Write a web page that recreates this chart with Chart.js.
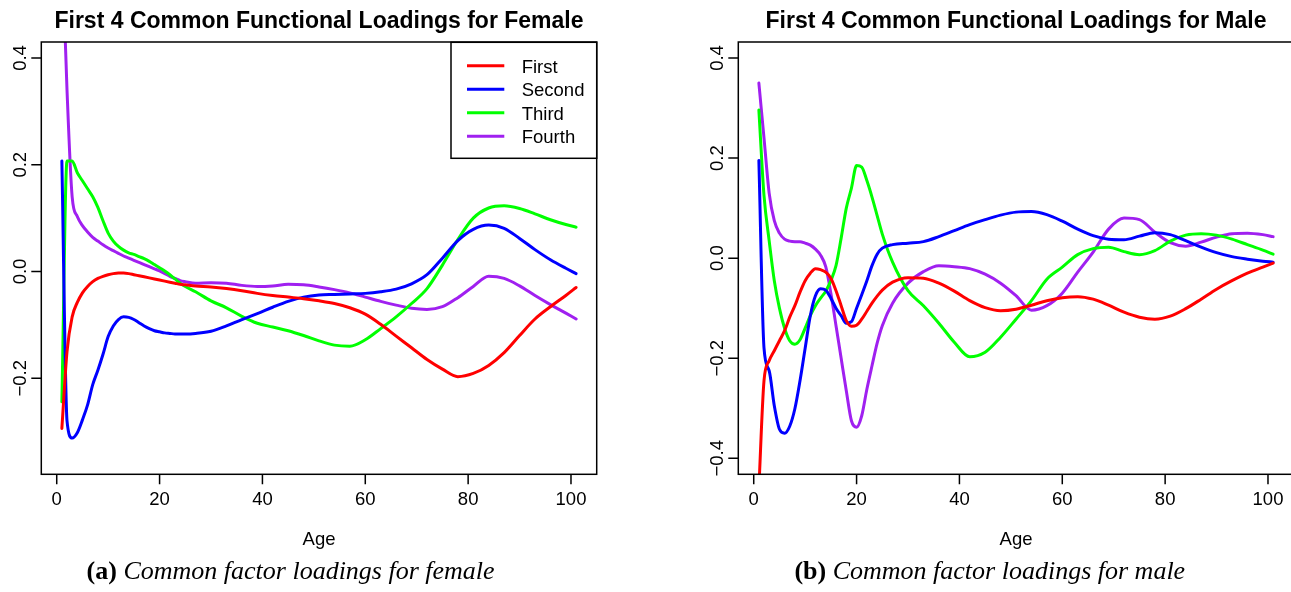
<!DOCTYPE html>
<html><head><meta charset="utf-8">
<script src="https://cdn.jsdelivr.net/npm/chart.js@4.4.1/dist/chart.umd.min.js"></script>
<style>
html,body{margin:0;padding:0;background:#fff;width:1291px;height:592px;overflow:hidden;position:relative}
canvas{position:absolute;top:0}
#cA{left:0}
#cB{left:645px}
</style></head><body>
<canvas id="cA" width="645" height="592"></canvas>
<canvas id="cB" width="660" height="592"></canvas>
<script>
// ---------- data ----------
const AGES = [1,2,3,4,5,6,7,8,9,10,11,12,13,14,15,16,17,18,19,20,21,22,23,24,25,
  27,30,33,36,39,42,45,48,51,54,57,60,63,66,69,72,75,78,81,84,87,90,93,96,99,101];
const SERIES_NAMES = ['First','Second','Third','Fourth'];

const FEMALE_FIRST = [-0.294,-0.15,-0.085,-0.058,-0.04,-0.028,-0.019,-0.013,-0.009,-0.006,-0.004,-0.003,-0.003,-0.004,-0.006,-0.008,-0.010,-0.012,-0.014,-0.016,-0.018,-0.020,-0.022,-0.024,-0.025,
  -0.027,-0.029,-0.032,-0.036,-0.041,-0.045,-0.048,-0.051,-0.055,-0.060,-0.068,-0.080,-0.099,-0.121,-0.143,-0.165,-0.183,-0.197,-0.191,-0.176,-0.152,-0.120,-0.089,-0.066,-0.045,-0.030];
const FEMALE_SECOND = [0.207,-0.28,-0.312,-0.302,-0.278,-0.25,-0.212,-0.185,-0.155,-0.122,-0.102,-0.09,-0.085,-0.086,-0.09,-0.096,-0.102,-0.107,-0.111,-0.113,-0.115,-0.116,-0.117,-0.117,-0.117,
  -0.116,-0.112,-0.102,-0.09,-0.079,-0.067,-0.056,-0.048,-0.044,-0.043,-0.042,-0.041,-0.038,-0.033,-0.023,-0.006,0.025,0.058,0.079,0.087,0.081,0.062,0.041,0.022,0.006,-0.004];
const FEMALE_THIRD = [-0.244,0.207,0.207,0.185,0.17,0.155,0.14,0.12,0.095,0.072,0.057,0.047,0.04,0.035,0.032,0.028,0.024,0.019,0.013,0.007,0.001,-0.006,-0.014,-0.022,-0.028,
  -0.038,-0.055,-0.068,-0.084,-0.097,-0.104,-0.111,-0.12,-0.13,-0.138,-0.14,-0.128,-0.107,-0.085,-0.06,-0.032,0.012,0.06,0.1,0.119,0.123,0.118,0.108,0.097,0.088,0.083];
const FEMALE_FOURTH = [0.62,0.34,0.14,0.103,0.086,0.074,0.064,0.057,0.05,0.044,0.039,0.034,0.029,0.025,0.021,0.017,0.013,0.009,0.005,0.001,-0.004,-0.009,-0.013,-0.017,-0.019,
  -0.022,-0.021,-0.022,-0.026,-0.028,-0.027,-0.024,-0.025,-0.029,-0.034,-0.040,-0.048,-0.056,-0.063,-0.069,-0.071,-0.066,-0.049,-0.028,-0.009,-0.013,-0.027,-0.045,-0.062,-0.078,-0.089];

const MALE_FIRST = [-0.46,-0.245,-0.205,-0.185,-0.165,-0.145,-0.118,-0.095,-0.068,-0.045,-0.03,-0.021,-0.023,-0.028,-0.04,-0.065,-0.095,-0.125,-0.136,-0.134,-0.122,-0.106,-0.09,-0.076,-0.064,
  -0.048,-0.039,-0.04,-0.05,-0.066,-0.085,-0.099,-0.105,-0.102,-0.094,-0.085,-0.079,-0.077,-0.082,-0.094,-0.108,-0.118,-0.122,-0.116,-0.101,-0.082,-0.062,-0.045,-0.03,-0.018,-0.01];
const MALE_SECOND = [0.195,-0.18,-0.225,-0.295,-0.342,-0.35,-0.336,-0.301,-0.245,-0.18,-0.115,-0.075,-0.061,-0.064,-0.08,-0.1,-0.115,-0.13,-0.127,-0.1,-0.073,-0.045,-0.015,0.008,0.02,
  0.027,0.03,0.033,0.043,0.055,0.067,0.077,0.086,0.092,0.093,0.087,0.074,0.058,0.045,0.038,0.037,0.044,0.051,0.047,0.035,0.022,0.011,0.003,-0.002,-0.006,-0.008];
const MALE_THIRD = [0.296,0.125,0.035,-0.045,-0.1,-0.14,-0.165,-0.172,-0.163,-0.14,-0.115,-0.095,-0.08,-0.066,-0.045,-0.015,0.04,0.1,0.14,0.185,0.182,0.155,0.122,0.085,0.048,
  -0.008,-0.065,-0.095,-0.13,-0.168,-0.197,-0.188,-0.158,-0.122,-0.085,-0.042,-0.018,0.007,0.019,0.022,0.013,0.007,0.015,0.034,0.046,0.049,0.046,0.038,0.027,0.016,0.008];
const MALE_FOURTH = [0.35,0.24,0.13,0.075,0.05,0.038,0.034,0.033,0.033,0.03,0.026,0.018,0.006,-0.017,-0.07,-0.135,-0.2,-0.265,-0.325,-0.338,-0.315,-0.262,-0.215,-0.17,-0.135,
  -0.09,-0.05,-0.027,-0.015,-0.017,-0.021,-0.032,-0.05,-0.075,-0.104,-0.095,-0.07,-0.028,0.012,0.058,0.08,0.077,0.052,0.031,0.024,0.032,0.042,0.049,0.05,0.047,0.043];

const X_TICKS = [0,20,40,60,80,100];
const X_TICK_LABELS = ['0','20','40','60','80','100'];
const FEMALE_Y_TICKS = [-0.2,0,0.2,0.4];
const FEMALE_Y_LABELS = ['\u22120.2','0.0','0.2','0.4'];
const MALE_Y_TICKS = [-0.4,-0.2,0,0.2,0.4];
const MALE_Y_LABELS = ['\u22120.4','\u22120.2','0.0','0.2','0.4'];
const X_TITLE = 'Age';
const TITLE_FEMALE = 'First 4 Common Functional Loadings for Female';
const TITLE_MALE = 'First 4 Common Functional Loadings for Male';
const CAPTION_FEMALE = ['(a)','Common factor loadings for female'];
const CAPTION_MALE = ['(b)','Common factor loadings for male'];

const COLORS = ['#FF0000','#0000FF','#00FF00','#A020F0'];

// ---------- drawing ----------
const SANS = '"Liberation Sans", Arial, Helvetica, sans-serif';
const SERIF = '"Liberation Serif", "Times New Roman", serif';

const rPlot = {
  id: 'rPlot',
  afterDraw(chart, args, o) {
    const ctx = chart.ctx, a = chart.chartArea, xs = chart.scales.x, ys = chart.scales.y;
    ctx.save();
    ctx.strokeStyle = '#000'; ctx.fillStyle = '#000';
    ctx.lineWidth = 1.5;
    ctx.strokeRect(a.left, a.top, a.right - a.left, a.bottom - a.top);
    ctx.beginPath();
    X_TICKS.forEach(t => { const px = xs.getPixelForValue(t); ctx.moveTo(px, a.bottom); ctx.lineTo(px, a.bottom + 10); });
    o.yTicks.forEach(t => { const py = ys.getPixelForValue(t); ctx.moveTo(a.left, py); ctx.lineTo(a.left - 10, py); });
    ctx.stroke();
    ctx.font = '18.5px ' + SANS;
    ctx.textAlign = 'center'; ctx.textBaseline = 'alphabetic';
    X_TICKS.forEach((t, i) => ctx.fillText(X_TICK_LABELS[i], xs.getPixelForValue(t), a.bottom + 30.7));
    o.yTicks.forEach((t, i) => {
      ctx.save();
      ctx.translate(a.left - 15.7, ys.getPixelForValue(t));
      ctx.rotate(-Math.PI / 2);
      ctx.fillText(o.yLabels[i], 0, 0);
      ctx.restore();
    });
    const cx = (a.left + a.right) / 2;
    ctx.fillText(X_TITLE, cx, 545);
    ctx.font = 'bold 23px ' + SANS;
    ctx.fillText(o.title, cx, 28.3);

    if (o.legend) {
      const bx = 451, by = 42.3, bw = a.right - 451, bh = 116;
      ctx.fillStyle = '#fff';
      ctx.fillRect(bx, by, bw, bh);
      ctx.lineWidth = 1.5; ctx.strokeStyle = '#000';
      ctx.strokeRect(bx, by, bw, bh);
      ctx.font = '18.5px ' + SANS;
      ctx.textAlign = 'left';
      chart.data.datasets.forEach((ds, i) => {
        const ry = 65.7 + i * 23.5;
        ctx.strokeStyle = ds.borderColor; ctx.lineWidth = 3; ctx.lineCap = 'butt';
        ctx.beginPath(); ctx.moveTo(467, ry); ctx.lineTo(504.3, ry); ctx.stroke();
        ctx.fillStyle = '#000';
        ctx.fillText(ds.label, 521.7, ry + 7.2);
      });
    }

    // caption
    const [lab, txt] = o.caption;
    ctx.textAlign = 'left';
    ctx.font = 'bold 26px ' + SERIF;
    const w1 = ctx.measureText(lab + ' ').width;
    ctx.font = 'italic 26px ' + SERIF;
    const w2 = ctx.measureText(txt).width;
    const x0 = o.captionX - (w1 + w2) / 2;
    ctx.fillStyle = '#000';
    ctx.font = 'bold 26px ' + SERIF;
    ctx.fillText(lab + ' ', x0, 579);
    ctx.font = 'italic 26px ' + SERIF;
    ctx.fillText(txt, x0 + w1, 579);
    ctx.restore();
  }
};

function makeDatasets(arrs) {
  return arrs.map((vals, i) => ({
    label: SERIES_NAMES[i],
    data: AGES.map((x, j) => ({x: x, y: vals[j]})),
    borderColor: COLORS[i],
    borderWidth: 3,
    pointRadius: 0,
    fill: false,
    cubicInterpolationMode: 'monotone',
    borderCapStyle: 'round',
    borderJoinStyle: 'round',
    clip: 0
  }));
}

function makeChart(id, arrs, yMin, yMax, pad, opts) {
  return new Chart(document.getElementById(id), {
    type: 'line',
    data: { datasets: makeDatasets(arrs) },
    options: {
      responsive: false,
      animation: false,
      devicePixelRatio: 1,
      layout: { padding: pad },
      scales: {
        x: { type: 'linear', min: -3, max: 105, display: false },
        y: { type: 'linear', min: yMin, max: yMax, display: false }
      },
      plugins: { legend: { display: false }, tooltip: { enabled: false }, title: { display: false }, rPlot: opts }
    },
    plugins: [rPlot]
  });
}

makeChart('cA', [FEMALE_FIRST, FEMALE_SECOND, FEMALE_THIRD, FEMALE_FOURTH], -0.38, 0.43,
  { left: 41.3, top: 42, right: 48.3, bottom: 117.7 },
  { yTicks: FEMALE_Y_TICKS, yLabels: FEMALE_Y_LABELS, title: TITLE_FEMALE, legend: true, caption: CAPTION_FEMALE, captionX: 290.6 });

makeChart('cB', [MALE_FIRST, MALE_SECOND, MALE_THIRD, MALE_FOURTH], -0.432, 0.432,
  { left: 93.3, top: 42, right: 11.3, bottom: 117.7 },
  { yTicks: MALE_Y_TICKS, yLabels: MALE_Y_LABELS, title: TITLE_MALE, legend: false, caption: CAPTION_MALE, captionX: 344.8 });
</script>
</body></html>
